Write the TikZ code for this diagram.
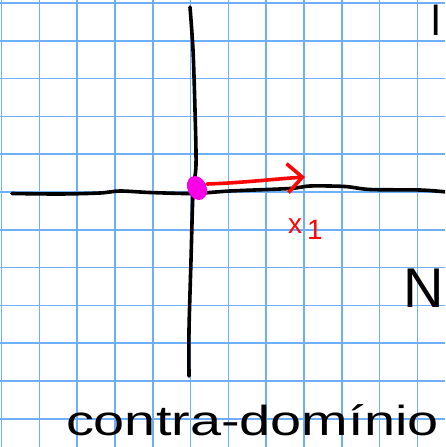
\documentclass[tikz,border=0pt]{standalone}
\usepackage{fontspec}
\setmainfont{Liberation Sans}
\usetikzlibrary{arrows.meta,shapes.geometric}
\definecolor{gridblue}{RGB}{110,175,250}
\definecolor{penred}{RGB}{252,5,5}
\definecolor{penmag}{RGB}{250,0,230}
\begin{document}
\begin{tikzpicture}[x=1pt,y=-1pt,
  gridline/.style={gridblue, line width=1.6pt},
  ink/.style={black, line width=3.6pt, line cap=round, line join=round},
  redink/.style={penred, line width=3.6pt, line cap=round, line join=round},
  hand/.style={inner sep=0pt, outer sep=0pt}]
\useasboundingbox (0,0) rectangle (445,447);
\fill[white] (0,0) rectangle (445,447);
\begin{scope}
\clip (0,0) rectangle (445,447);
\foreach \i in {0,...,11} {
  \draw[gridline] (1.5+37.8*\i,0) -- (1.5+37.8*\i,447);
  \draw[gridline] (0,3+37.8*\i) -- (445,3+37.8*\i);
}
% axes
\draw[ink] plot[smooth] coordinates {(190,7) (193,50) (195,110) (196,165) (193,193) (191,260) (189,330) (189,376)};
\draw[ink] plot[smooth] coordinates {(12,193.5) (60,194) (100,193) (120,191) (150,192.5) (193,193.5) (230,191) (290,188.5) (310,186) (345,186.5) (370,189.5) (420,190) (447,192)};
% origin dot
\node[hand, ellipse, fill=penmag, minimum width=19pt, minimum height=25pt, rotate=25] (origin) at (197,188) {};
\coordinate (tip) at (305,177);
\draw[redink, -{Straight Barb[length=15pt,width=29pt,line width=3.6pt]}] (origin.center) ++(10,-4) .. controls (240,183) and (275,179) .. (tip);
% labels
\node[hand, anchor=base west, text=penred, font=\fontsize{28}{28}\selectfont] (x1) at (288,233) {x\hspace{5pt}\raisebox{-6pt}{1}};
\node[hand, anchor=base west, font=\fontsize{42}{42}\selectfont] (ltop) at (431,35) {l};
\node[hand, anchor=base west, font=\fontsize{56}{56}\selectfont] (nright) at (403,307) {N};
\node[hand, anchor=base west, font=\fontsize{42}{42}\selectfont] (cod) at (66,435) {\scalebox{1.33}[1]{contra-domínio}};
\end{scope}
\end{tikzpicture}
\end{document}
